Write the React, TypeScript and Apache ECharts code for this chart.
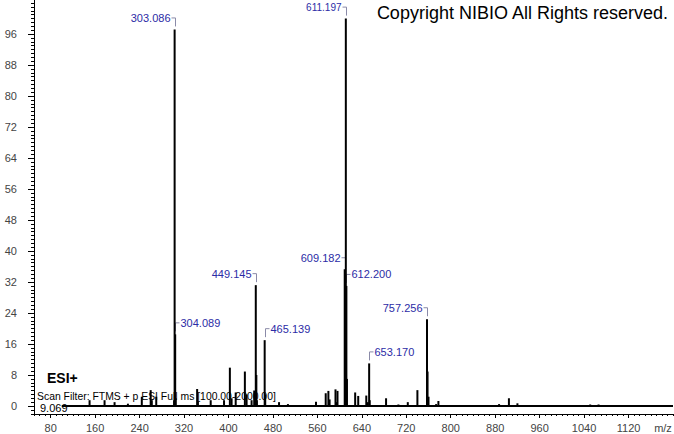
import React, { useEffect, useRef } from "react";
import * as echarts from "echarts";

// m/z and relative intensity of each peak in the spectrum
const peakMz = [
  150, 177, 195, 219, 244, 260, 262, 270, 302.1, 303.086, 304.089, 305.09,
  343.6, 345, 368, 392, 402.5, 405.6, 413, 429.5, 432.6, 441.6, 446.3,
  449.145, 450.15, 451.15, 465.139, 466.14, 491, 507, 557.5, 575, 579.8, 582,
  592.6, 594, 596.2, 609.182, 610.185, 611.197, 612.2, 613.2, 628, 633.5,
  648, 650.6, 653.17, 654.17, 683.6, 705.8, 722.7, 740, 757.256, 758.26, 760,
  773.7, 777.8, 887, 904.7, 920, 1051, 1066,
];
const peakIntensity = [
  1.5, 1.5, 1.0, 0.6, 2.4, 4.1, 1.5, 2.4, 1.5, 97.2, 18.5, 2.0,
  4.4, 1.2, 1.5, 1.5, 9.9, 2.0, 3.5, 8.9, 3.0, 1.5, 4.0,
  31.2, 8.0, 1.5, 17.0, 3.0, 1.0, 0.5, 1.1, 3.3, 3.9, 1.7,
  4.3, 1.0, 3.9, 35.3, 9.0, 100, 31.0, 7.0, 3.5, 2.6,
  2.7, 1.0, 11.0, 1.5, 2.0, 0.4, 1.0, 4.1, 22.4, 8.9, 2.4,
  0.5, 1.3, 0.5, 2.0, 0.7, 0.4, 0.4,
];

// annotated peaks: m/z, intensity, label side (0 = left, 1 = right)
const annotMz = [303.086, 304.089, 449.145, 465.139, 609.182, 611.197, 612.2, 653.17, 757.256];
const annotIntensity = [97.2, 18.5, 31.2, 17.0, 35.3, 100, 31.0, 11.0, 22.4];
const annotSide = [0, 1, 0, 1, 0, 0, 1, 1, 0];

// scan baseline range
const baselineRange = [100, 1200];

// axis tick labels
const xTickLabels = [80, 160, 240, 320, 400, 480, 560, 640, 720, 800, 880, 960, 1040, 1120];
const yTickLabels = [0, 8, 16, 24, 32, 40, 48, 56, 64, 72, 80, 88, 96];

const X_MIN = 50;
const X_MAX = 1200;
const Y_MIN = -2.06;
const Y_MAX = 104.8;

const FONT = '"Liberation Sans", Arial, sans-serif';

export default function App() {
  const ref = useRef<HTMLDivElement>(null);

  useEffect(() => {
    if (!ref.current) return;
    const chart = echarts.init(ref.current, null, { renderer: "svg" });

    const xMinor: number[] = [];
    for (let v = X_MIN; v <= X_MAX; v += 10) xMinor.push(v);
    const yMinor: number[] = [];
    for (let v = -2; v <= 104; v += 1) yMinor.push(v);

    const bars = peakMz.map((m, i) => [m, peakIntensity[i]]);
    const annots = annotMz.map((m, i) => [m, annotIntensity[i], annotSide[i]]);

    const option: any = {
      animation: false,
      grid: { left: 34, right: 1, top: 0, bottom: 20, containLabel: false },
      xAxis: [
        {
          type: "value",
          min: X_MIN,
          max: X_MAX,
          position: "bottom",
          axisLine: { show: true, onZero: false, lineStyle: { color: "#000", width: 1 } },
          axisTick: { show: true, customValues: xTickLabels, length: 4, lineStyle: { color: "#000" } },
          axisLabel: {
            show: true,
            customValues: xTickLabels,
            formatter: (v: number) => String(v),
            margin: 8,
            color: "#444",
            fontSize: 11,
            fontFamily: FONT,
          },
          splitLine: { show: false },
        },
        {
          type: "value",
          min: X_MIN,
          max: X_MAX,
          position: "bottom",
          axisLine: { show: false, onZero: false },
          axisTick: { show: true, customValues: xMinor, length: 2, lineStyle: { color: "#000" } },
          axisLabel: { show: false },
          splitLine: { show: false },
        },
      ],
      yAxis: [
        {
          type: "value",
          min: Y_MIN,
          max: Y_MAX,
          position: "left",
          axisLine: { show: true, onZero: false, lineStyle: { color: "#000", width: 1 } },
          axisTick: { show: true, customValues: yTickLabels, length: 6, lineStyle: { color: "#000" } },
          axisLabel: {
            show: true,
            customValues: yTickLabels,
            formatter: (v: number) => String(v),
            margin: 17,
            color: "#444",
            fontSize: 11,
            fontFamily: FONT,
          },
          splitLine: { show: false },
        },
        {
          type: "value",
          min: Y_MIN,
          max: Y_MAX,
          position: "left",
          axisLine: { show: false, onZero: false },
          axisTick: { show: true, customValues: yMinor, length: 3, lineStyle: { color: "#000" } },
          axisLabel: { show: false },
          splitLine: { show: false },
        },
      ],
      series: [
        {
          type: "line",
          xAxisIndex: 0,
          yAxisIndex: 0,
          data: [
            [baselineRange[0], 0],
            [baselineRange[1], 0],
          ],
          symbol: "none",
          lineStyle: { color: "#000", width: 2 },
          silent: true,
        },
        {
          type: "bar",
          xAxisIndex: 0,
          yAxisIndex: 0,
          data: bars,
          barWidth: 2,
          itemStyle: { color: "#000" },
          silent: true,
        },
        {
          type: "custom",
          xAxisIndex: 0,
          yAxisIndex: 0,
          data: annots,
          clip: false,
          silent: true,
          renderItem: (params: any, api: any) => {
            const mz = api.value(0);
            const h = api.value(1);
            const side = api.value(2);
            const pt = api.coord([mz, h]);
            const px = Math.round(pt[0]) + 0.5;
            const ty = pt[1] - 11.5;
            const by = pt[1] - 3;
            const dir = side === 0 ? -1 : 1;
            const fs = h >= 99 ? 10 : 11;
            return {
              type: "group",
              children: [
                {
                  type: "polyline",
                  shape: {
                    points: [
                      [px + dir * 4, ty],
                      [px, ty],
                      [px, by],
                    ],
                  },
                  style: { stroke: "#8a8aa8", lineWidth: 1, fill: "none" },
                },
                {
                  type: "text",
                  x: px + dir * 5,
                  y: ty,
                  style: {
                    text: mz.toFixed(3),
                    fill: "#2c2ca6",
                    fontSize: fs,
                    fontFamily: FONT,
                    align: side === 0 ? "right" : "left",
                    verticalAlign: "middle",
                  },
                },
              ],
            };
          },
        },
      ],
      graphic: [
        {
          type: "text",
          x: 668,
          y: 13,
          style: {
            text: "Copyright NIBIO All Rights reserved.",
            fill: "#000",
            fontSize: 18,
            fontFamily: FONT,
            align: "right",
            verticalAlign: "middle",
          },
        },
        {
          type: "text",
          x: 47,
          y: 378,
          style: {
            text: "ESI+",
            fill: "#000",
            fontSize: 14,
            fontWeight: "bold",
            fontFamily: FONT,
            align: "left",
            verticalAlign: "middle",
          },
        },
        {
          type: "text",
          x: 37,
          y: 396,
          style: {
            text: "Scan Filter: FTMS + p ESI Full ms [100.00-2000.00]",
            fill: "#000",
            fontSize: 10.4,
            fontFamily: FONT,
            align: "left",
            verticalAlign: "middle",
          },
        },
        {
          type: "text",
          x: 40,
          y: 408,
          style: {
            text: "9.069",
            fill: "#000",
            fontSize: 11,
            fontFamily: FONT,
            align: "left",
            verticalAlign: "middle",
          },
        },
        {
          type: "text",
          x: 663,
          y: 428,
          style: {
            text: "m/z",
            fill: "#444",
            fontSize: 11,
            fontFamily: FONT,
            align: "center",
            verticalAlign: "middle",
          },
        },
      ],
    };

    chart.setOption(option);
    return () => chart.dispose();
  }, []);

  return (
    <div
      ref={ref}
      style={{ position: "fixed", left: 0, top: 0, width: 674, height: 434, background: "#fff" }}
    />
  );
}
